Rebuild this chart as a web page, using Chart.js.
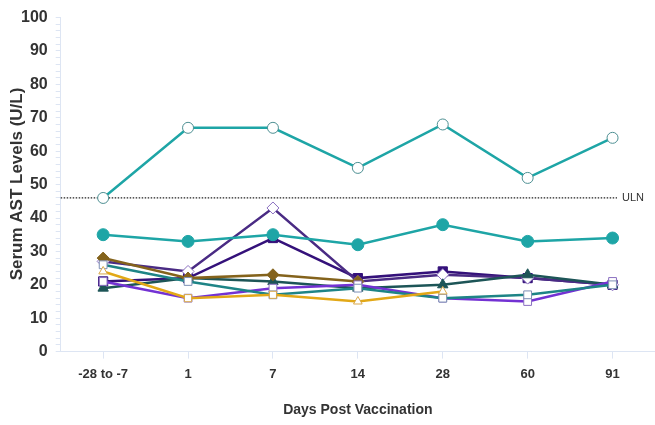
<!DOCTYPE html>
<html>
<head>
<meta charset="utf-8">
<script src="https://cdn.jsdelivr.net/npm/chart.js@4"></script>
<style>
  html, body { margin: 0; padding: 0; background: #fff; }
  #wrap { width: 655px; height: 425px; }
</style>
</head>
<body>
<div id="wrap"><canvas id="chart"></canvas></div>
<script>
"use strict";

// visits (x categories)
const days = ['-28 to -7', '1', '7', '14', '28', '60', '91'];

// serum AST per subject, U/L
const subjA = [46, 67, 67, 55, 68, 52, 64];
const subjB = [35, 33, 35, 32, 38, 33, 34];
const subjC = [27, 24, 43, 21, 23, 22, 20];
const subjD = [21, 22, 34, 22, 24, 22, 20];
const subjE = [28, 22, 23, 21, null, null, null];
const subjF = [19, 22, 21, 19, 20, 23, 20];
const subjG = [26, 21, 17, 19, 16, 17, 20];
const subjH = [24, 16, 17, 15, 18, null, null];
const subjI = [21, 16, 19, 20, 16, 15, 21];

const ULN = 46;

(() => {
  const FONT = '"Liberation Sans", Arial, sans-serif';
  Chart.defaults.font.family = FONT;
  Chart.defaults.color = '#333';

  const axisBlue = '#dde5f3';

  const line = (data, color, style, opts) => Object.assign({
    data: data,
    borderColor: color,
    backgroundColor: color,
    pointBackgroundColor: color,
    pointBorderColor: color,
    pointStyle: style,
    pointRadius: 5,
    pointBorderWidth: 1,
    borderWidth: 2.5,
    tension: 0,
    spanGaps: false
  }, opts || {});

  // dotted ULN reference line + label
  const ulnLine = {
    id: 'ulnLine',
    beforeDatasetsDraw(chart) {
      const ctx = chart.ctx;
      const y = chart.scales.y.getPixelForValue(ULN);
      const left = chart.chartArea.left;
      ctx.save();
      ctx.strokeStyle = '#222';
      ctx.lineWidth = 1.2;
      ctx.setLineDash([1.5, 1.5]);
      ctx.beginPath();
      ctx.moveTo(left, y);
      ctx.lineTo(617, y);
      ctx.stroke();
      ctx.setLineDash([]);
      ctx.fillStyle = '#333';
      ctx.font = '11px ' + FONT;
      ctx.textBaseline = 'middle';
      ctx.fillText('ULN', 622, y);
      ctx.restore();
    }
  };

  // y title sits close to the tick labels, so draw it by hand
  const yTitle = {
    id: 'yTitle',
    afterDraw(chart) {
      const ctx = chart.ctx;
      ctx.save();
      ctx.translate(17, 184);
      ctx.rotate(-Math.PI / 2);
      ctx.fillStyle = '#333';
      ctx.font = 'bold 17px ' + FONT;
      ctx.textAlign = 'center';
      ctx.textBaseline = 'middle';
      ctx.fillText('Serum AST Levels (U/L)', 0, 0);
      ctx.restore();
    }
  };

  const config = {
    type: 'line',
    data: {
      labels: days,
      datasets: [
        line(subjA, '#1ea5a6', 'circle', { pointBackgroundColor: '#fff', pointBorderColor: '#4d8f92', pointRadius: 5.5 }),
        line(subjB, '#1ea5a6', 'circle', { pointRadius: 6 }),
        line(subjH, '#e2a817', 'rect', { pointBackgroundColor: '#fff', pointBorderColor: '#d9a84a', pointStyle: ['triangle', 'rect', 'rect', 'triangle', 'triangle'] }),
        line(subjG, '#1e8486', 'rect', { pointBackgroundColor: '#fff', pointBorderColor: '#7d8fb5', pointRadius: 5.5 }),
        line(subjI, '#7332d3', 'rect', { pointBackgroundColor: '#fff', pointBorderColor: '#8a6fc0', pointRadius: 5.5 }),
        line(subjE, '#84631c', 'rectRot', { pointRadius: 6 }),
        line(subjF, '#1d5557', 'triangle', { pointRadius: 6 }),
        line(subjC, '#4a2b84', 'rectRot', { pointBackgroundColor: '#fff', pointBorderColor: '#8a6fc0', pointRadius: 6 }),
        line(subjD, '#34117a', 'rect', { pointRadius: 6.5 })
      ]
    },
    options: {
      responsive: true,
      maintainAspectRatio: false,
      animation: false,
      layout: { autoPadding: false, padding: { top: 6, right: 0, left: 13, bottom: 6 } },
      plugins: {
        legend: { display: false },
        tooltip: { enabled: false }
      },
      scales: {
        x: {
          offset: true,
          border: { color: axisBlue, width: 1 },
          grid: { drawOnChartArea: false, color: axisBlue, tickLength: 7 },
          ticks: { font: { size: 13, weight: 'bold' }, color: '#333', padding: 8 },
          title: {
            display: true,
            text: 'Days Post Vaccination',
            font: { size: 14, weight: 'bold' },
            color: '#333',
            padding: { top: 12, bottom: 0 }
          }
        },
        y: {
          min: 0,
          max: 100,
          border: { color: axisBlue, width: 1 },
          grid: { drawOnChartArea: false, color: axisBlue, tickLength: 5 },
          ticks: {
            stepSize: 2,
            autoSkip: false,
            font: { size: 16, weight: 'bold' },
            color: '#333',
            padding: 8,
            callback: (v) => (v % 10 === 0 ? v : '')
          }
        }
      }
    },
    plugins: [ulnLine, yTitle]
  };

  new Chart(document.getElementById('chart'), config);
})();
</script>
</body>
</html>
